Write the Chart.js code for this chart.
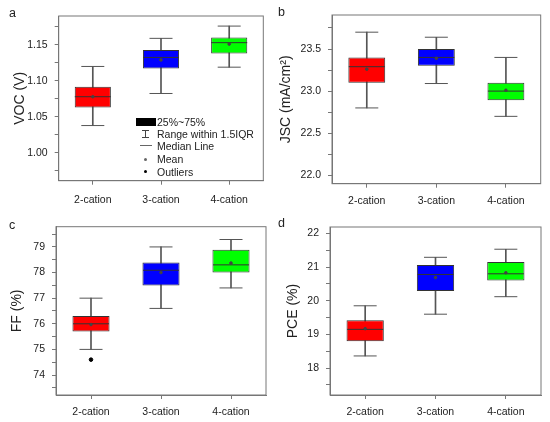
<!DOCTYPE html>
<html>
<head>
<meta charset="utf-8">
<script src="https://cdn.jsdelivr.net/npm/chart.js@4"></script>
<style>
body{margin:0;background:#fff;width:550px;height:422px;position:relative;overflow:hidden;font-family:"Liberation Sans",Arial,sans-serif;}
canvas{position:absolute;}
.tag{position:absolute;font-size:12.5px;color:#222;line-height:14px;}
.leg{position:absolute;font-size:10.5px;color:#222;line-height:12px;white-space:nowrap;}
.sym{position:absolute;}
</style>
</head>
<body>
<canvas id="pa" width="275" height="211" style="left:0;top:0"></canvas>
<canvas id="pb" width="275" height="211" style="left:275px;top:0"></canvas>
<canvas id="pc" width="275" height="211" style="left:0;top:211px"></canvas>
<canvas id="pd" width="275" height="211" style="left:275px;top:211px"></canvas>

<div class="tag" style="left:9px;top:6px">a</div>
<div class="tag" style="left:278px;top:5px">b</div>
<div class="tag" style="left:9px;top:218px">c</div>
<div class="tag" style="left:278px;top:216px">d</div>

<!-- leyenda del panel a -->
<div class="sym" style="left:136px;top:118px;width:20px;height:8px;background:#000"></div>
<div class="leg" style="left:157px;top:116px">25%~75%</div>
<div class="sym" style="left:145px;top:130px;width:1px;height:7px;background:#444"></div>
<div class="sym" style="left:142px;top:130px;width:7px;height:1px;background:#444"></div>
<div class="sym" style="left:142px;top:137px;width:7px;height:1px;background:#444"></div>
<div class="leg" style="left:157px;top:128px">Range within 1.5IQR</div>
<div class="sym" style="left:140px;top:145px;width:12px;height:1px;background:#666"></div>
<div class="leg" style="left:157px;top:140px">Median Line</div>
<div class="sym" style="left:144px;top:158px;width:3px;height:3px;border-radius:2px;background:#666"></div>
<div class="leg" style="left:157px;top:153px">Mean</div>
<div class="sym" style="left:144px;top:170px;width:3px;height:3px;border-radius:2px;background:#000"></div>
<div class="leg" style="left:157px;top:166px">Outliers</div>

<script>
// Datos
const categorias = ['2-cation', '3-cation', '4-cation'];
const colores = ['#ff0000', '#0000ff', '#00ff00'];

// a) VOC
const vocMin = [1.038, 1.0825, 1.119];
const vocQ1 = [1.063, 1.117, 1.138];
const vocMediana = [1.078, 1.1325, 1.153];
const vocQ3 = [1.092, 1.143, 1.160];
const vocMax = [1.120, 1.159, 1.176];
const vocMedia = [1.078, 1.129, 1.151];

// b) JSC
const jscMin = [22.80, 23.09, 22.70];
const jscQ1 = [23.10, 23.30, 22.89];
const jscMediana = [23.29, 23.40, 23.00];
const jscQ3 = [23.40, 23.50, 23.10];
const jscMax = [23.70, 23.64, 23.40];
const jscMedia = [23.26, 23.39, 23.01];

// c) FF
const ffMin = [75.0, 76.6, 77.4];
const ffQ1 = [75.7, 77.49, 78.0];
const ffMediana = [76.0, 78.09, 78.3];
const ffQ3 = [76.3, 78.39, 78.89];
const ffMax = [77.0, 79.0, 79.29];
const ffMedia = [75.97, 78.0, 78.37];
const ffAtipicos = [74.6, null, null];

// d) PCE
const pceMin = [18.36, 19.60, 20.12];
const pceQ1 = [18.80, 20.29, 20.60];
const pceMediana = [19.15, 20.78, 20.80];
const pceQ3 = [19.42, 21.06, 21.15];
const pceMax = [19.85, 21.29, 21.53];
const pceMedia = [19.17, 20.69, 20.83];

// Marco del area de la grafica
const marco = {
    id: 'marco',
    beforeDatasetsDraw(chart) {
        const {ctx, chartArea: a} = chart;
        ctx.save();
        ctx.strokeStyle = '#777';
        ctx.lineWidth = 1;
        ctx.strokeRect(a.left, a.top, a.right - a.left, a.bottom - a.top);
        ctx.restore();
    }
};

function cajas(id, d) {
    const puntos = (data, estilo, radio, color, orden) => ({
        type: 'line',
        data: data,
        showLine: false,
        pointStyle: estilo,
        pointRadius: radio,
        pointBorderColor: color,
        pointBackgroundColor: color,
        pointBorderWidth: 1,
        order: orden
    });
    const datasets = [
        {
            label: 'bigotes',
            data: d.min.map((v, i) => [v, d.max[i]]),
            backgroundColor: '#555',
            barThickness: 1,
            grouped: false,
            order: 6
        },
        {
            label: 'caja',
            data: d.q1.map((v, i) => [v, d.q3[i]]),
            backgroundColor: colores,
            borderColor: '#333',
            borderWidth: 1,
            borderSkipped: false,
            barPercentage: 0.53,
            categoryPercentage: 1,
            grouped: false,
            order: 5
        },
        puntos(d.max, 'line', 11.5, '#555', 4),
        puntos(d.min, 'line', 11.5, '#555', 3),
        puntos(d.mediana, 'line', 18, '#333', 2),
        puntos(d.media, 'circle', 1.3, '#444', 1)
    ];
    if (d.atipicos) {
        datasets.push(puntos(d.atipicos, 'circle', 1.8, '#000', 0));
    }

    return new Chart(document.getElementById(id), {
        type: 'bar',
        data: {labels: categorias, datasets: datasets},
        options: {
            responsive: false,
            animation: false,
            events: [],
            layout: {
                autoPadding: false,
                padding: {left: 0, top: d.area[1], right: 275 - d.area[2], bottom: 0}
            },
            plugins: {legend: {display: false}, tooltip: {enabled: false}},
            scales: {
                x: {
                    offset: true,
                    grid: {display: true, drawOnChartArea: false, offset: false, tickLength: 4, color: '#777'},
                    border: {color: '#777'},
                    ticks: {padding: d.xPad, color: '#222', font: {size: 10.5}, maxRotation: 0},
                    afterFit: s => { s.height = 211 - d.area[3]; }
                },
                y: {
                    min: d.rango[0],
                    max: d.rango[1],
                    grid: {display: true, drawOnChartArea: false, tickLength: 4, color: '#777'},
                    border: {color: '#777'},
                    title: {display: true, text: d.titulo, color: '#222', font: {size: 14}, padding: {top: d.tituloX}},
                    ticks: {
                        stepSize: d.paso / 2,
                        includeBounds: false,
                        autoSkip: false,
                        maxTicksLimit: 100,
                        padding: 7,
                        color: '#222',
                        font: {size: 10.5},
                        callback: v => {
                            const k = v / d.paso;
                            return Math.abs(k - Math.round(k)) < 1e-6 ? v.toFixed(d.decimales) : '';
                        }
                    },
                    afterFit: s => { s.width = d.area[0]; }
                }
            }
        },
        plugins: [marco]
    });
}

cajas('pa', {min: vocMin, q1: vocQ1, mediana: vocMediana, q3: vocQ3, max: vocMax, media: vocMedia,
    rango: [0.9615, 1.190], paso: 0.05, decimales: 2, titulo: 'VOC (V)', tituloX: 12, xPad: 9,
    area: [58.7, 16, 263.3, 180.7]});
cajas('pb', {min: jscMin, q1: jscQ1, mediana: jscMediana, q3: jscQ3, max: jscMax, media: jscMedia,
    rango: [21.90, 23.904], paso: 0.5, decimales: 1, titulo: 'JSC (mA/cm²)', tituloX: 3, xPad: 7,
    area: [57, 15, 265.7, 183.7]});
cajas('pc', {min: ffMin, q1: ffQ1, mediana: ffMediana, q3: ffQ3, max: ffMax, media: ffMedia, atipicos: ffAtipicos,
    rango: [73.22, 79.79], paso: 1, decimales: 0, titulo: 'FF (%)', tituloX: 9, xPad: 7,
    area: [56, 15.7, 266, 184]});
cajas('pd', {min: pceMin, q1: pceQ1, mediana: pceMediana, q3: pceQ3, max: pceMax, media: pceMedia,
    rango: [17.20, 22.19], paso: 1, decimales: 0, titulo: 'PCE (%)', tituloX: 10, xPad: 7,
    area: [55, 16, 266, 184]});
</script>
</body>
</html>
